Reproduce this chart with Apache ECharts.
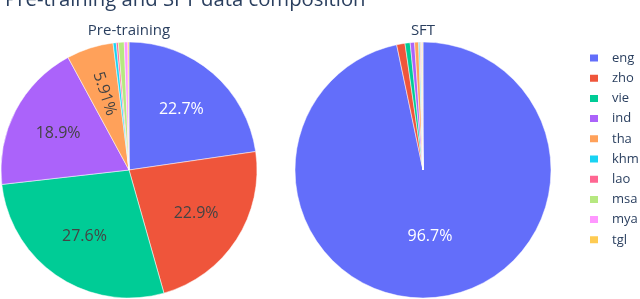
<!DOCTYPE html>
<html>
<head>
<meta charset="utf-8">
<script src="https://cdn.jsdelivr.net/npm/echarts@6/dist/echarts.min.js"></script>
<style>
html,body{margin:0;padding:0;background:#fff;}
#chart{width:640px;height:299px;}
</style>
</head>
<body>
<div id="chart"></div>
<script>
const categories = ['eng','zho','vie','ind','tha','khm','lao','msa','mya','tgl'];
const pretrainValues = [22.7, 22.9, 27.6, 18.9, 5.91, 0.4, 0.25, 0.75, 0.45, 0.14];
const sftValues = [96.7, 1.05, 0.65, 0.55, 0.5, 0.15, 0.1, 0.12, 0.1, 0.08];
const titleText = 'Pre-training and SFT data composition';
const subTitles = ['Pre-training', 'SFT'];

const colors = ['#636efa','#EF553B','#00cc96','#ab63fa','#FFA15A','#19d3f3','#FF6692','#B6E880','#FF97FF','#FECB52'];
const FONT = '"Open Sans", "DejaVu Sans", sans-serif';
const TXT = '#2a3f5f';

function pct(vals){
  const s = vals.reduce((a,b)=>a+b,0);
  return function(p){ return (vals[p.dataIndex]/s*100).toPrecision(3) + '%'; };
}
function makeData(vals, withLabel){
  return categories.map((c,i)=>{
    const d = {name:c, value:vals[i]};
    if (withLabel) {
      d.label = {color: i===0 ? '#ffffff' : '#444444'};
      if (i===4) d.label.rotate = 'radial';
    } else {
      d.itemStyle = {color: colors[i]};
    }
    return d;
  });
}
const R = 128;
function pieSeries(vals, cx, labelR0){
  return [
    {
      type:'pie', center:[cx,170], radius:[0,R], startAngle:90, clockwise:true,
      avoidLabelOverlap:false, silent:true,
      label:{show:false}, labelLine:{show:false},
      itemStyle:{borderColor:'#ffffff', borderWidth:0.5},
      emphasis:{disabled:true},
      data: makeData(vals,false)
    },
    {
      type:'pie', center:[cx,170], radius:[labelR0,R], startAngle:90, clockwise:true,
      avoidLabelOverlap:false, silent:true, minShowLabelAngle:10,
      itemStyle:{color:'rgba(0,0,0,0)', borderWidth:0},
      label:{show:true, position:'inside', fontFamily:FONT, fontSize:16, formatter:pct(vals)},
      labelLine:{show:false},
      emphasis:{disabled:true},
      data: makeData(vals,true)
    }
  ];
}

const chart = echarts.init(document.getElementById('chart'), null, {renderer:'canvas'});
chart.setOption({
  animation:false,
  color: colors,
  legend:{
    orient:'vertical', left:588, top:51, padding:0,
    itemWidth:10, itemHeight:9, itemGap:6.2, icon:'rect',
    data: categories.map((c,i)=>({name:c, itemStyle:{color:colors[i]}})),
    textStyle:{fontFamily:FONT, fontSize:13, color:TXT, lineHeight:14, padding:[0,0,0,8]}
  },
  graphic:[
    {type:'text', x:5, y:0, style:{text:titleText, fontFamily:FONT, fontSize:20.3, fill:TXT, textAlign:'left', textVerticalAlign:'middle'}},
    {type:'text', x:129, y:31, style:{text:subTitles[0], fontFamily:FONT, fontSize:15, fill:TXT, textAlign:'center', textVerticalAlign:'middle'}},
    {type:'text', x:423, y:31, style:{text:subTitles[1], fontFamily:FONT, fontSize:15, fill:TXT, textAlign:'center', textVerticalAlign:'middle'}}
  ],
  series: [].concat(pieSeries(pretrainValues,129,26), pieSeries(sftValues,423,0))
});
</script>
</body>
</html>
